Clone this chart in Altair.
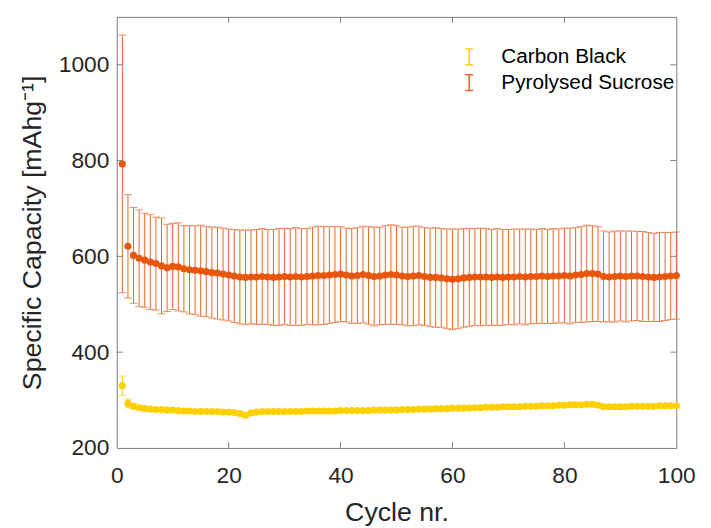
import altair as alt
import pandas as pd

cycles = list(range(1, 101))

series_names = ["Carbon Black", "Pyrolysed Sucrose"]
series_colors = ["#FFD000", "#E8560C"]
bar_colors = ["#F7CD1C", "#E4662A"]

ps_mean = [793, 621, 602, 596, 592, 588, 585, 580, 576, 579,
           578, 574, 572, 571, 570, 568, 566, 565, 563, 561,
           559, 557, 556, 557, 557, 558, 557, 556, 557, 558,
           557, 558, 557, 558, 559, 560, 560, 561, 562, 563,
           561, 559, 560, 562, 560, 558, 559, 561, 562, 561,
           559, 558, 559, 560, 558, 556, 556, 555, 553, 552,
           553, 555, 556, 557, 557, 557, 556, 557, 556, 557,
           557, 558, 557, 558, 558, 559, 558, 559, 559, 560,
           559, 561, 562, 564, 564, 563, 558, 557, 558, 559,
           558, 559, 559, 558, 557, 556, 557, 558, 559, 560]

ps_std = [269, 108, 100, 101, 98, 99, 97, 100, 91, 90,
          92, 90, 92, 93, 95, 94, 95, 96, 96, 96,
          97, 98, 99, 98, 99, 100, 99, 100, 101, 100,
          101, 102, 101, 100, 102, 103, 102, 101, 100, 99,
          98, 99, 100, 101, 102, 103, 102, 103, 104, 103,
          102, 103, 104, 103, 102, 103, 104, 103, 104, 105,
          104, 103, 102, 101, 102, 101, 100, 101, 100, 99,
          100, 99, 100, 99, 98, 99, 98, 99, 98, 99,
          100, 99, 100, 101, 100, 99, 95, 94, 95, 94,
          95, 94, 93, 94, 93, 92, 93, 92, 91, 91]

cb_mean = [330, 293, 287, 284, 282, 281, 280, 280, 279, 279,
           278, 277, 277, 276, 276, 276, 276, 276, 275, 275,
           274, 272, 268, 273, 275, 276, 276, 276, 276, 276,
           276, 276, 276, 277, 277, 277, 277, 277, 277, 278,
           278, 278, 278, 278, 278, 279, 279, 279, 279, 279,
           280, 280, 280, 281, 281, 281, 282, 282, 282, 283,
           283, 283, 283, 284, 284, 285, 285, 285, 286, 286,
           286, 286, 287, 287, 287, 288, 288, 288, 289, 289,
           290, 290, 290, 291, 291, 289, 286, 286, 286, 286,
           286, 287, 287, 287, 287, 287, 288, 288, 288, 288]

cb_std = [20, 9, 6] + [4] * 97

x_ticks = [0, 20, 40, 60, 80, 100]
y_ticks = [200, 400, 600, 800, 1000]

rows = []
for name, means, stds in [("Carbon Black", cb_mean, cb_std),
                          ("Pyrolysed Sucrose", ps_mean, ps_std)]:
    for c, m, s in zip(cycles, means, stds):
        rows.append({"series": name, "cycle": c, "mean": m,
                     "lower": m - s, "upper": m + s})
df = pd.DataFrame(rows)

FONT = "Liberation Sans"
W, H = 566, 436

xs = alt.Scale(domain=[0, 100], nice=False, zero=False)
ys = alt.Scale(domain=[200, 1100], nice=False, zero=False)

bar_color = alt.Color(
    "series:N",
    scale=alt.Scale(domain=series_names, range=bar_colors),
    legend=alt.Legend(
        title=None, orient="none", legendX=346, legendY=30,
        symbolType="M-0.5,-1H0.5M0,-1V1M-0.5,1H0.5",
        symbolSize=256, symbolStrokeWidth=1.5, symbolFillColor="transparent",
        labelFont=FONT, labelFontSize=21, labelColor="#000000",
        labelOffset=22, rowPadding=3, labelLimit=400,
    ),
)

base = alt.Chart(df)

rules = base.mark_rule(strokeWidth=1).encode(
    x=alt.X("cycle:Q", scale=xs,
            axis=alt.Axis(values=x_ticks, title="Cycle nr.", grid=False, format="d",
                          ticks=False, tickSize=0, domain=False, labelFlush=False,
                          labelFont=FONT, labelFontSize=23, labelColor="#262626",
                          labelPadding=17, titleFont=FONT, titleFontSize=27,
                          titleFontWeight="normal", titleColor="#262626",
                          titlePadding=12)),
    y=alt.Y("lower:Q", scale=ys,
            axis=alt.Axis(values=y_ticks, title="Specific Capacity [mAhg⁻¹]",
                          grid=False, ticks=False, tickSize=0, domain=False, format="d",
                          labelFlush=False,
                          labelFont=FONT, labelFontSize=23, labelColor="#262626",
                          labelPadding=8, titleFont=FONT, titleFontSize=27,
                          titleFontWeight="normal", titleColor="#262626",
                          titlePadding=12)),
    y2="upper:Q",
    color=bar_color,
)

cap_color = alt.Color("series:N",
                      scale=alt.Scale(domain=series_names, range=bar_colors),
                      legend=None)

caps_up = base.mark_tick(orient="horizontal", size=8, thickness=1).encode(
    x=alt.X("cycle:Q", scale=xs), y=alt.Y("upper:Q", scale=ys), color=cap_color)
caps_lo = base.mark_tick(orient="horizontal", size=8, thickness=1).encode(
    x=alt.X("cycle:Q", scale=xs), y=alt.Y("lower:Q", scale=ys), color=cap_color)

points = base.mark_circle(size=52, opacity=1).encode(
    x=alt.X("cycle:Q", scale=xs),
    y=alt.Y("mean:Q", scale=ys),
    fill=alt.Fill("series:N",
                  scale=alt.Scale(domain=series_names, range=series_colors),
                  legend=None),
)

xt = pd.DataFrame({"v": x_ticks[1:-1]})
yt = pd.DataFrame({"v": y_ticks[1:]})
tick_col = "#808080"
xb = alt.Chart(xt).mark_rule(color=tick_col, strokeWidth=1).encode(
    x=alt.X("v:Q", scale=xs), y=alt.value(H), y2=alt.value(H - 6))
xtop = alt.Chart(xt).mark_rule(color=tick_col, strokeWidth=1).encode(
    x=alt.X("v:Q", scale=xs), y=alt.value(0), y2=alt.value(6))
yl = alt.Chart(yt).mark_rule(color=tick_col, strokeWidth=1).encode(
    y=alt.Y("v:Q", scale=ys), x=alt.value(0), x2=alt.value(6))
yr = alt.Chart(yt).mark_rule(color=tick_col, strokeWidth=1).encode(
    y=alt.Y("v:Q", scale=ys), x=alt.value(W), x2=alt.value(W - 6))

chart = alt.layer(rules, caps_up, caps_lo, points, xb, xtop, yl, yr).resolve_scale(
    color="shared", fill="independent"
).properties(
    width=W, height=H,
    autosize=alt.AutoSizeParams(type="none"),
    padding={"left": 110, "top": 6, "right": 27, "bottom": 78},
    background="white",
).configure_view(stroke="#7a7a7a", strokeWidth=1)

chart.save("out.html", embed_options={"renderer": "svg", "actions": False})
